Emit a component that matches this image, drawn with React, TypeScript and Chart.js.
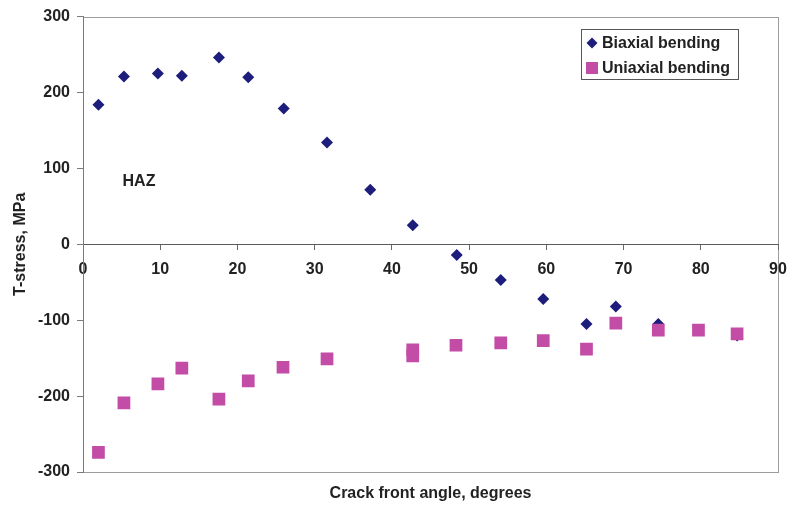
import React, { useEffect, useRef } from "react";
import { Chart, registerables } from "chart.js";

Chart.register(...registerables);

// ---- Data ----
const biaxialAngles = [2, 5.3, 9.7, 12.8, 17.6, 21.4, 26, 31.6, 37.2, 42.7, 48.4, 54.1, 59.6, 65.2, 69, 74.5, 84.7];
const biaxialStress = [184, 221, 225, 222, 246, 220, 179, 134, 72, 25, -14, -47, -72, -105, -82, -105, -120];

const uniaxialAngles = [2, 5.3, 9.7, 12.8, 17.6, 21.4, 25.9, 31.6, 42.7, 42.7, 48.3, 54.1, 59.6, 65.2, 69, 74.5, 79.7, 84.7];
const uniaxialStress = [-274, -209, -184, -163, -204, -180, -162, -151, -139, -147, -133, -130, -127, -138, -104, -113, -113, -118];

const seriesLabels = ["Biaxial bending", "Uniaxial bending"];
const xAxisTitle = "Crack front angle, degrees";
const yAxisTitle = "T-stress, MPa";
const annotationText = "HAZ";
const annotationAt = { x: 7.25, y: 83 };

const X_MIN = 0, X_MAX = 90, X_STEP = 10;
const Y_MIN = -300, Y_MAX = 300, Y_STEP = 100;

// ---- Styles ----
const NAVY = "#1d1d7c";
const MAGENTA = "#c24ca6";
const TEXT = "#222222";
const FONT_FAMILY = "'Liberation Sans', Arial, Helvetica, sans-serif";

const framePlugin = {
  id: "frame",
  beforeDraw(chart: any) {
    const { ctx, chartArea } = chart;
    ctx.save();
    ctx.fillStyle = "#ffffff";
    ctx.fillRect(0, 0, chart.width, chart.height);
    ctx.strokeStyle = "#9c9c9c";
    ctx.lineWidth = 1;
    ctx.strokeRect(
      Math.round(chartArea.left) + 0.5,
      Math.round(chartArea.top) + 0.5,
      Math.round(chartArea.right - chartArea.left),
      Math.round(chartArea.bottom - chartArea.top)
    );
    ctx.restore();
  },
};

const hazPlugin = {
  id: "haz",
  afterDatasetsDraw(chart: any) {
    const { ctx, scales } = chart;
    const px = scales.x.getPixelForValue(annotationAt.x);
    const py = scales.y.getPixelForValue(annotationAt.y);
    ctx.save();
    ctx.font = `bold 16px ${FONT_FAMILY}`;
    ctx.fillStyle = TEXT;
    ctx.textAlign = "center";
    ctx.textBaseline = "middle";
    ctx.fillText(annotationText, px, py);
    ctx.restore();
  },
};

const legendPlugin = {
  id: "boxLegend",
  afterDraw(chart: any) {
    const { ctx } = chart;
    const left = 581, top = 29, w = 157, h = 50;
    ctx.save();
    ctx.fillStyle = "#ffffff";
    ctx.fillRect(left, top, w, h);
    ctx.strokeStyle = "#555555";
    ctx.lineWidth = 1;
    ctx.strokeRect(left + 0.5, top + 0.5, w, h);
    ctx.font = `bold 16px ${FONT_FAMILY}`;
    ctx.textAlign = "left";
    ctx.textBaseline = "middle";
    chart.data.datasets.forEach((ds: any, i: number) => {
      const cy = top + 14 + i * 25;
      const cx = left + 11;
      ctx.fillStyle = ds.backgroundColor;
      ctx.beginPath();
      if (ds.pointStyle === "rectRot") {
        const r = 5.5;
        ctx.moveTo(cx, cy - r);
        ctx.lineTo(cx + r, cy);
        ctx.lineTo(cx, cy + r);
        ctx.lineTo(cx - r, cy);
      } else {
        const s = 6;
        ctx.rect(cx - s, cy - s, 2 * s, 2 * s);
      }
      ctx.closePath();
      ctx.fill();
      ctx.fillStyle = TEXT;
      ctx.fillText(ds.label, left + 21, cy + 1);
    });
    ctx.restore();
  },
};

export default function App() {
  const canvasRef = useRef<HTMLCanvasElement>(null);

  useEffect(() => {
    document.body.style.margin = "0";
    const canvas = canvasRef.current;
    if (!canvas) return;

    const chart = new Chart(canvas, {
      type: "scatter",
      data: {
        datasets: [
          {
            label: seriesLabels[0],
            data: biaxialAngles.map((x, i) => ({ x, y: biaxialStress[i] })),
            pointStyle: "rectRot",
            pointRadius: 6,
            pointHoverRadius: 6,
            backgroundColor: NAVY,
            borderColor: NAVY,
            borderWidth: 0,
            order: 1,
          },
          {
            label: seriesLabels[1],
            data: uniaxialAngles.map((x, i) => ({ x, y: uniaxialStress[i] })),
            pointStyle: "rect",
            pointRadius: 9,
            pointHoverRadius: 9,
            backgroundColor: MAGENTA,
            borderColor: MAGENTA,
            borderWidth: 0,
            order: 0,
          },
        ],
      },
      options: {
        responsive: false,
        animation: false,
        devicePixelRatio: 1,
        layout: { padding: { left: 0, top: 16, right: 14, bottom: 3.8 } },
        plugins: {
          legend: { display: false },
          tooltip: { enabled: false },
          title: {
            display: true,
            position: "bottom",
            fullSize: false,
            text: xAxisTitle,
            color: TEXT,
            font: { family: FONT_FAMILY, size: 16, weight: "bold" },
            padding: { top: 12, bottom: 0 },
          },
        },
        scales: {
          x: {
            type: "linear",
            position: { y: 0 },
            min: X_MIN,
            max: X_MAX,
            ticks: {
              stepSize: X_STEP,
              color: TEXT,
              padding: 11,
              font: { family: FONT_FAMILY, size: 16, weight: "bold" },
              maxRotation: 0,
            },
            grid: {
              drawOnChartArea: false,
              drawTicks: true,
              tickLength: 5,
              color: "#6a6a6a",
            },
            border: { display: true, color: "#5a5a5a", width: 1 },
            afterFit: (scale: any) => {
              scale.paddingLeft = 0;
              scale.paddingRight = 0;
            },
          },
          y: {
            type: "linear",
            position: "left",
            min: Y_MIN,
            max: Y_MAX,
            ticks: {
              stepSize: Y_STEP,
              color: TEXT,
              padding: 7,
              font: { family: FONT_FAMILY, size: 16, weight: "bold" },
            },
            grid: {
              drawOnChartArea: false,
              drawTicks: true,
              tickLength: 6,
              color: "#7a7a7a",
            },
            border: { display: true, color: "#7a7a7a", width: 1 },
            title: {
              display: true,
              text: yAxisTitle,
              color: TEXT,
              font: { family: FONT_FAMILY, size: 16, weight: "bold" },
              padding: { top: 11, bottom: 0 },
            },
            afterFit: (scale: any) => {
              scale.width = 83;
            },
          },
        },
      } as any,
      plugins: [framePlugin, hazPlugin, legendPlugin],
    });

    return () => chart.destroy();
  }, []);

  return (
    <div style={{ width: 792, height: 507 }}>
      <canvas ref={canvasRef} width={792} height={507} style={{ display: "block" }} />
    </div>
  );
}
